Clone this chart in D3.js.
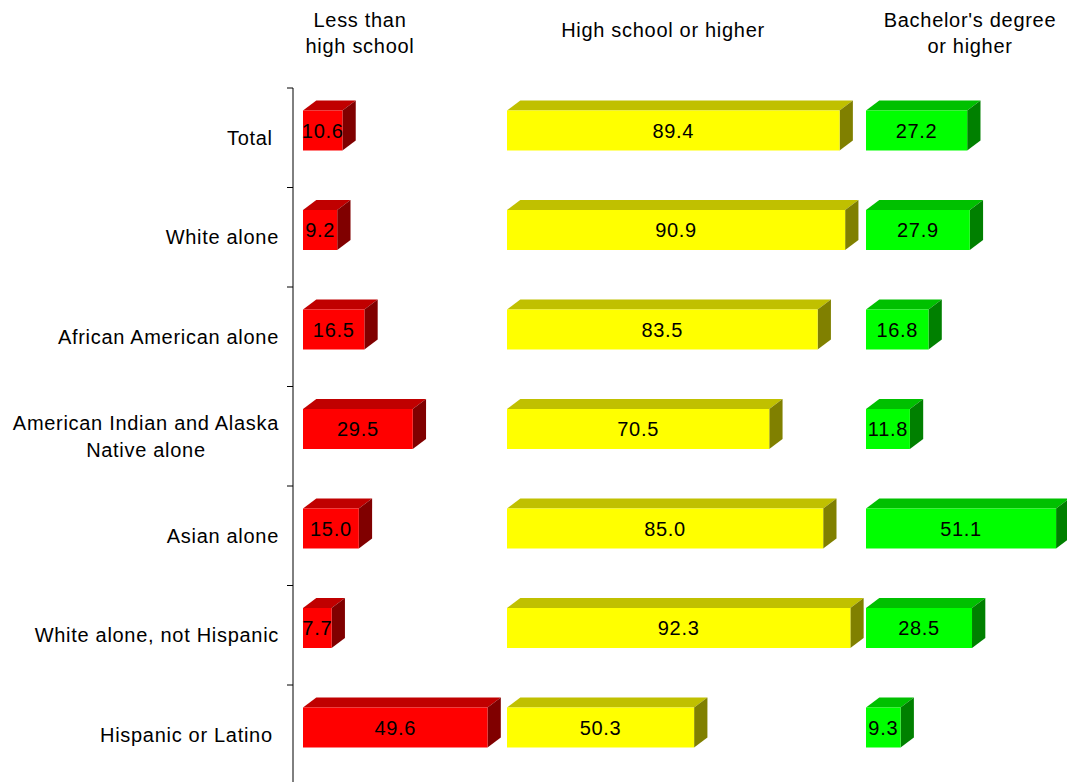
<!DOCTYPE html>
<html><head><meta charset="utf-8">
<script src="https://cdn.jsdelivr.net/npm/d3@7"></script>
<style>body{margin:0;background:#fff}text{font-family:"Liberation Sans",Arial,sans-serif;letter-spacing:0.7px}</style>
</head><body><svg id="c" width="1067" height="782"></svg>
<script>
const categories = ["Total ", "White alone", "African American alone", "American Indian and Alaska|Native alone", "Asian alone", "White alone, not Hispanic", "Hispanic or Latino "];
const lessThanHS = [10.6, 9.2, 16.5, 29.5, 15.0, 7.7, 49.6];
const hsOrHigher = [89.4, 90.9, 83.5, 70.5, 85.0, 92.3, 50.3];
const bachelorsOrHigher = [27.2, 27.9, 16.8, 11.8, 51.1, 28.5, 9.3];
const panelTitles = [["Less than", "high school"], ["High school or higher"], ["Bachelor's degree", "or higher"]];
const colors = [
  {front:"#FF0000", top:"#C00000", side:"#800000"},
  {front:"#FFFF00", top:"#C0C000", side:"#808000"},
  {front:"#00FF00", top:"#00C000", side:"#008000"}
];
const series = [lessThanHS, hsOrHigher, bachelorsOrHigher];

const svg = d3.select("#c");
const FS = 20;
const axisX = 293;
const y = d3.scaleBand().domain(categories).range([88, 88 + 99.5*7]);
const panelStarts = [303, 507, 866];
const x = d3.scaleLinear().domain([0, 100]).range([0, 372]);
const dx = 13.3, dy = 10, barOff = 22.5, barH = 40;

// axis
const ax = svg.append("g").attr("transform", `translate(${axisX},0)`);
ax.append("line").attr("x1",0).attr("x2",0).attr("y1",88).attr("y2",782).attr("stroke","#000");
ax.selectAll("line.t").data(categories).join("line").attr("class","t")
  .attr("x1",-6).attr("x2",0).attr("y1",d=>y(d)).attr("y2",d=>y(d)).attr("stroke","#000");

// category labels
categories.forEach(c => {
  const lines = c.split("|");
  const cy = y(c) + y.bandwidth()/2;
  const lh = 27;
  const g = svg.append("g");
  const t0 = g.append("text").attr("x",279).attr("y",cy - (lines.length-1)*lh/2).attr("dy","0.35em")
    .attr("text-anchor","end").attr("font-size",FS).attr("xml:space","preserve").style("white-space","pre").text(lines[0]);
  if (lines.length > 1) {
    const w = t0.node().getComputedTextLength();
    const mid = 279 - w/2;
    for (let i=1;i<lines.length;i++) {
      g.append("text").attr("x",mid).attr("y",cy - (lines.length-1)*lh/2 + i*lh).attr("dy","0.35em")
        .attr("text-anchor","middle").attr("font-size",FS).text(lines[i]);
    }
  }
});

// titles
const titleCenters = [360, 663, 970];
panelTitles.forEach((lines,i) => {
  const lh = 26;
  const cy = lines.length > 1 ? 20 : 30;
  lines.forEach((l,j) => svg.append("text").attr("x",titleCenters[i]).attr("y",cy + j*lh).attr("dy","0.35em")
    .attr("text-anchor","middle").attr("font-size",FS).text(l));
});

// bars
series.forEach((vals, si) => {
  const x0 = panelStarts[si];
  const col = colors[si];
  const g = svg.append("g");
  vals.forEach((v, i) => {
    const c = categories[i];
    const yt = y(c) + barOff;
    const w = x(v);
    const x1 = x0 + w;
    g.append("path").attr("d", `M${x0},${yt}L${x0+dx},${yt-dy}L${x1+dx},${yt-dy}L${x1},${yt}Z`).attr("fill", col.top);
    g.append("path").attr("d", `M${x1},${yt}L${x1+dx},${yt-dy}L${x1+dx},${yt-dy+barH}L${x1},${yt+barH}Z`).attr("fill", col.side);
    g.append("rect").attr("x", x0).attr("y", yt).attr("width", w).attr("height", barH).attr("fill", col.front);
    g.append("text").attr("x", x0 + w/2).attr("y", yt + barH/2).attr("dy","0.35em")
      .attr("text-anchor","middle").attr("font-size",FS).text(v.toFixed(1));
  });
});
</script></body></html>
